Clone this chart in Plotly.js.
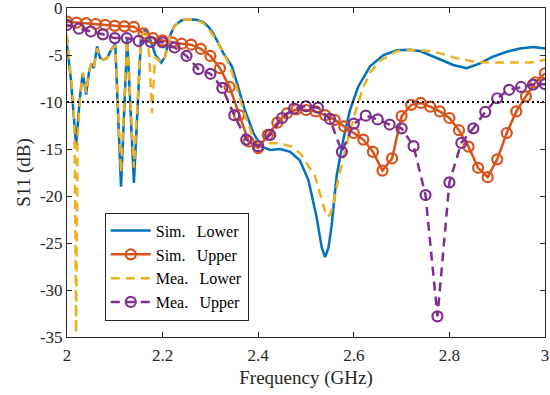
<!DOCTYPE html>
<html><head><meta charset="utf-8">
<script src="https://cdn.plot.ly/plotly-3.0.1.min.js"></script>
<style>html,body{margin:0;padding:0;background:#fff}#chart{width:550px;height:395px}</style>
</head><body><div id="chart"></div>
<script>
// Sim. Lower
const simLowerF = [2.000,2.008,2.019,2.027,2.033,2.040,2.046,2.051,2.056,2.063,2.069,2.077,2.084,2.094,2.101,2.113,2.126,2.140,2.155,2.165,2.175,2.185,2.197,2.205,2.215,2.225,2.240,2.257,2.270,2.285,2.296,2.306,2.316,2.327,2.336,2.345,2.358,2.372,2.390,2.407,2.425,2.446,2.467,2.487,2.505,2.522,2.533,2.540,2.547,2.554,2.564,2.578,2.592,2.609,2.634,2.662,2.690,2.718,2.740,2.759,2.780,2.808,2.836,2.864,2.890,2.920,2.948,2.976,3.000];
const simLowerDb = [-3.9,-7.5,-14.6,-9.5,-6.9,-9.2,-6.8,-5.9,-6.4,-4.1,-5.3,-5.5,-5.3,-4.3,-3.9,-19.0,-3.2,-18.6,-3.0,-2.2,-3.5,-5.0,-5.8,-5.2,-3.0,-1.9,-1.3,-1.2,-1.25,-1.5,-2.0,-2.7,-3.7,-4.8,-5.5,-6.2,-8.4,-10.85,-13.3,-14.75,-15.1,-15.0,-15.3,-16.2,-18.3,-22.2,-25.5,-26.5,-25.5,-23.0,-17.9,-14.0,-10.85,-8.4,-6.2,-5.0,-4.5,-4.45,-4.6,-5.0,-5.5,-6.06,-6.4,-5.9,-5.2,-4.65,-4.3,-4.15,-4.3];

// Sim. Upper
const simUpperF = [2.00,2.02,2.04,2.06,2.08,2.10,2.12,2.14,2.16,2.18,2.20,2.22,2.24,2.26,2.28,2.30,2.32,2.34,2.36,2.38,2.40,2.42,2.44,2.46,2.48,2.50,2.52,2.54,2.56,2.58,2.60,2.62,2.64,2.66,2.68,2.70,2.72,2.74,2.76,2.78,2.80,2.82,2.84,2.86,2.88,2.90,2.92,2.94,2.96,2.98,3.00];
const simUpperDb = [-1.45,-1.55,-1.6,-1.7,-1.8,-1.9,-1.95,-2.0,-2.7,-3.2,-3.45,-3.65,-3.8,-3.9,-4.35,-5.1,-6.4,-8.4,-11.4,-14.2,-14.9,-13.5,-12.2,-11.2,-10.8,-10.85,-11.0,-11.4,-11.9,-12.6,-13.3,-14.0,-15.3,-17.3,-16.0,-11.5,-10.3,-10.1,-10.5,-11.0,-11.7,-13.0,-14.75,-17.0,-18.0,-16.1,-13.3,-11.0,-9.4,-7.9,-6.95];

// Mea. Lower
const meaLowerF = [2.000,2.008,2.014,2.016,2.019,2.022,2.028,2.033,2.040,2.046,2.051,2.056,2.063,2.069,2.077,2.084,2.094,2.101,2.113,2.126,2.140,2.155,2.165,2.172,2.178,2.184,2.197,2.205,2.215,2.225,2.240,2.257,2.270,2.285,2.300,2.315,2.330,2.345,2.360,2.375,2.390,2.400,2.415,2.440,2.460,2.473,2.490,2.505,2.519,2.533,2.543,2.550,2.557,2.567,2.578,2.590,2.606,2.620,2.635,2.655,2.690,2.718,2.760,2.780,2.808,2.830,2.850,2.880,2.906,2.948,2.970,2.985,3.000];
const meaLowerDb = [-2.9,-7.0,-10.5,-14.0,-34.6,-14.0,-9.0,-6.9,-9.0,-6.8,-5.9,-6.4,-4.3,-5.3,-5.5,-5.3,-4.3,-4.0,-17.5,-3.3,-17.0,-3.0,-2.3,-5.0,-11.2,-5.2,-5.8,-5.2,-3.0,-1.9,-1.3,-1.2,-1.3,-1.6,-2.5,-3.6,-5.0,-6.8,-9.2,-11.8,-13.8,-14.4,-14.4,-14.4,-14.6,-14.8,-15.6,-16.8,-17.9,-20.4,-22.2,-22.0,-21.0,-18.3,-16.0,-13.5,-10.6,-8.4,-6.8,-5.6,-4.6,-4.45,-4.6,-4.8,-5.25,-5.5,-5.7,-5.8,-5.8,-5.85,-5.8,-5.7,-5.5];

// Mea. Upper
const meaUpperF = [2.000,2.025,2.050,2.075,2.100,2.125,2.150,2.175,2.200,2.225,2.250,2.275,2.300,2.325,2.350,2.375,2.400,2.425,2.450,2.475,2.500,2.525,2.550,2.575,2.600,2.625,2.650,2.675,2.700,2.725,2.750,2.775,2.800,2.825,2.850,2.875,2.900,2.925,2.950,2.975,3.000];
const meaUpperDb = [-1.8,-2.2,-2.5,-2.8,-3.2,-3.2,-3.5,-3.6,-3.65,-4.2,-5.1,-6.5,-7.0,-8.5,-11.4,-14.0,-14.7,-13.5,-11.7,-10.7,-10.45,-10.6,-11.8,-15.3,-12.3,-11.45,-11.85,-12.4,-12.8,-14.7,-19.9,-32.8,-18.55,-14.35,-12.8,-11.05,-9.6,-8.7,-8.4,-8.15,-8.1];

// -10 dB reference
const refF = [2, 3];
const refDb = [-10, -10];

const xTicks = [2, 2.2, 2.4, 2.6, 2.8, 3];
const xTickText = ['2', '2.2', '2.4', '2.6', '2.8', '3'];
const yTicks = [-35, -30, -25, -20, -15, -10, -5, 0];
const yTickText = ['-35', '-30', '-25', '-20', '-15', '-10', '-5', '0'];
const names = ['Sim.\u2002\u2009Lower', 'Sim.\u2002\u2009Upper', 'Mea.\u2002\u2009Lower', 'Mea.\u2002\u2009Upper'];

const font = 'Liberation Serif, Times New Roman, serif';
const traces = [
  {x: simLowerF, y: simLowerDb, name: names[0], mode: 'lines', line: {color: '#0072BD', width: 2.5}},
  {x: simUpperF, y: simUpperDb, name: names[1], mode: 'lines+markers', line: {color: '#D95319', width: 2.5},
   marker: {symbol: 'circle-open', size: 10, color: '#D95319', line: {width: 2.2, color: '#D95319'}}},
  {x: meaLowerF, y: meaLowerDb, name: names[2], mode: 'lines', line: {color: '#EDB120', width: 2.5, dash: '9px,6px'}},
  {x: meaUpperF, y: meaUpperDb, name: names[3], mode: 'lines+markers', line: {color: '#7E2F8E', width: 2.5, dash: '9px,6px'},
   marker: {symbol: 'circle-open', size: 10, color: '#7E2F8E', line: {width: 2.2, color: '#7E2F8E'}}},
  {x: refF, y: refDb, mode: 'lines', showlegend: false, hoverinfo: 'skip', line: {color: '#000', width: 2.2, dash: '2px,3px'}}
];

const axisCommon = {
  showline: true, mirror: 'ticks', linecolor: '#262626', linewidth: 1,
  ticks: 'inside', ticklen: 5, tickcolor: '#262626', tickwidth: 1,
  showgrid: false, zeroline: false, ticklabeloverflow: 'allow',
  tickfont: {family: font, size: 17, color: '#262626'}
};

const layout = {
  width: 550, height: 395,
  margin: {l: 67, r: 5, t: 8, b: 58},
  paper_bgcolor: '#fff', plot_bgcolor: '#fff',
  font: {family: font, color: '#262626'},
  xaxis: Object.assign({}, axisCommon, {
    range: [2, 3], tickmode: 'array', tickvals: xTicks, ticktext: xTickText,
    ticklabelstandoff: 3,
    title: {text: 'Frequency (GHz)', font: {family: font, size: 19, color: '#262626'}, standoff: 6}
  }),
  yaxis: Object.assign({}, axisCommon, {
    range: [-35, 0], tickmode: 'array', tickvals: yTicks, ticktext: yTickText,
    title: {text: 'S11 (dB)', font: {family: font, size: 19, color: '#262626'}, standoff: 4}
  }),
  legend: {
    x: 0.079, y: 0.378, xanchor: 'left', yanchor: 'top',
    bgcolor: '#fff', bordercolor: '#262626', borderwidth: 1,
    font: {family: font, size: 16, color: '#000'},
    itemwidth: 40, tracegroupgap: 0
  },
  showlegend: true
};

Plotly.newPlot('chart', traces, layout, {staticPlot: true, displayModeBar: false});
</script>
</body></html>
